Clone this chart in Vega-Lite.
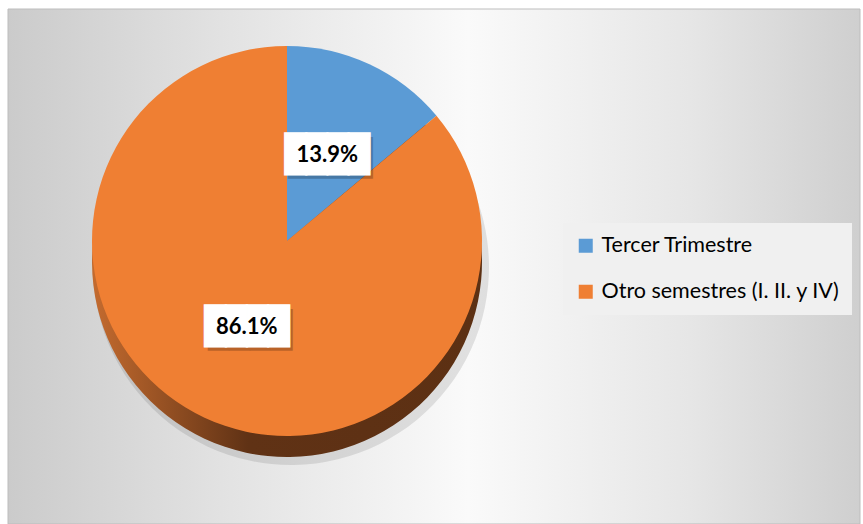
{
  "$schema": "https://vega.github.io/schema/vega-lite/v6.json",
  "width": 558,
  "height": 464,
  "padding": {"left": 7, "top": 8, "right": 0, "bottom": 0},
  "background": "#ffffff",
  "config": {"view": {"stroke": null}, "font": "Lato"},
  "data": {
    "values": [
      {"categoria": "Tercer Trimestre", "valor": 0.139, "orden": 1},
      {"categoria": "Otro semestres (I. II. y IV)", "valor": 0.861, "orden": 2}
    ]
  },
  "layer": [
    {
      "data": {"values": [{}]},
      "mark": {
        "type": "rect",
        "stroke": "#bdbdbd",
        "strokeWidth": 1,
        "fill": {
          "gradient": "linear",
          "x1": 0, "y1": 0, "x2": 1, "y2": 0,
          "stops": [
            {"offset": 0, "color": "#cbcbcb"},
            {"offset": 0.25, "color": "#e2e2e2"},
            {"offset": 0.54, "color": "#fafafa"},
            {"offset": 0.8, "color": "#e6e6e6"},
            {"offset": 1, "color": "#cfcfcf"}
          ]
        }
      },
      "encoding": {
        "x": {"datum": 0, "type": "quantitative", "scale": {"domain": [0, 1], "nice": false, "zero": false}, "axis": null},
        "x2": {"datum": 1.5269},
        "y": {"datum": 1, "type": "quantitative", "scale": {"domain": [0, 1], "nice": false, "zero": false}, "axis": null},
        "y2": {"datum": -0.1099}
      }
    },
    {
      "mark": {"type": "arc", "radius": 198, "yOffset": 26, "xOffset": 4, "fill": "#000000", "opacity": 0.1, "stroke": null},
      "encoding": {
        "theta": {"field": "valor", "type": "quantitative", "stack": true},
        "order": {"field": "orden", "type": "quantitative"}
      }
    },
    {
      "mark": {
        "type": "arc",
        "radius": 195,
        "yOffset": 21,
        "stroke": null,
        "fill": {
          "gradient": "linear",
          "x1": 0, "y1": 0, "x2": 1, "y2": 0,
          "stops": [
            {"offset": 0, "color": "#c46b2f"},
            {"offset": 0.4, "color": "#603215"},
            {"offset": 1, "color": "#5c3013"}
          ]
        }
      },
      "encoding": {
        "theta": {"field": "valor", "type": "quantitative", "stack": true},
        "order": {"field": "orden", "type": "quantitative"}
      }
    },
    {
      "mark": {"type": "arc", "radius": 195, "stroke": null},
      "encoding": {
        "theta": {"field": "valor", "type": "quantitative", "stack": true},
        "order": {"field": "orden", "type": "quantitative"},
        "color": {
          "field": "categoria",
          "type": "nominal",
          "scale": {
            "domain": ["Tercer Trimestre", "Otro semestres (I. II. y IV)"],
            "range": ["#5b9bd5", "#ef7f33"]
          },
          "legend": {
            "title": null,
            "orient": "none",
            "legendX": 555,
            "legendY": 214,
            "fillColor": "#f0f0f0",
            "padding": 12,
            "symbolType": "square",
            "symbolSize": 196,
            "symbolStrokeWidth": 0,
            "labelFontSize": 21.5,
            "labelFont": "Lato",
            "labelColor": "#000000",
            "rowPadding": 23,
            "labelOffset": 5,
            "labelLimit": 400
          }
        }
      }
    },
    {
      "mark": {"type": "text", "radius": 95, "text": "████", "font": "DejaVu Sans Mono", "fontSize": 35, "color": "#000000", "opacity": 0.22, "dx": 3, "dy": 4, "baseline": "middle", "align": "center"},
      "encoding": {
        "theta": {"field": "valor", "type": "quantitative", "stack": true},
        "order": {"field": "orden", "type": "quantitative"}
      }
    },
    {
      "mark": {"type": "text", "radius": 95, "text": "████", "font": "DejaVu Sans Mono", "fontSize": 35, "color": "#ffffff", "stroke": "#ffffff", "strokeWidth": 1.5, "baseline": "middle", "align": "center"},
      "encoding": {
        "theta": {"field": "valor", "type": "quantitative", "stack": true},
        "order": {"field": "orden", "type": "quantitative"}
      }
    },
    {
      "mark": {"type": "text", "radius": 95, "font": "Lato", "fontWeight": "bold", "fontSize": 22, "color": "#000000", "baseline": "middle", "align": "center"},
      "encoding": {
        "theta": {"field": "valor", "type": "quantitative", "stack": true},
        "order": {"field": "orden", "type": "quantitative"},
        "text": {"field": "valor", "type": "quantitative", "format": ".1%"}
      }
    }
  ]
}
